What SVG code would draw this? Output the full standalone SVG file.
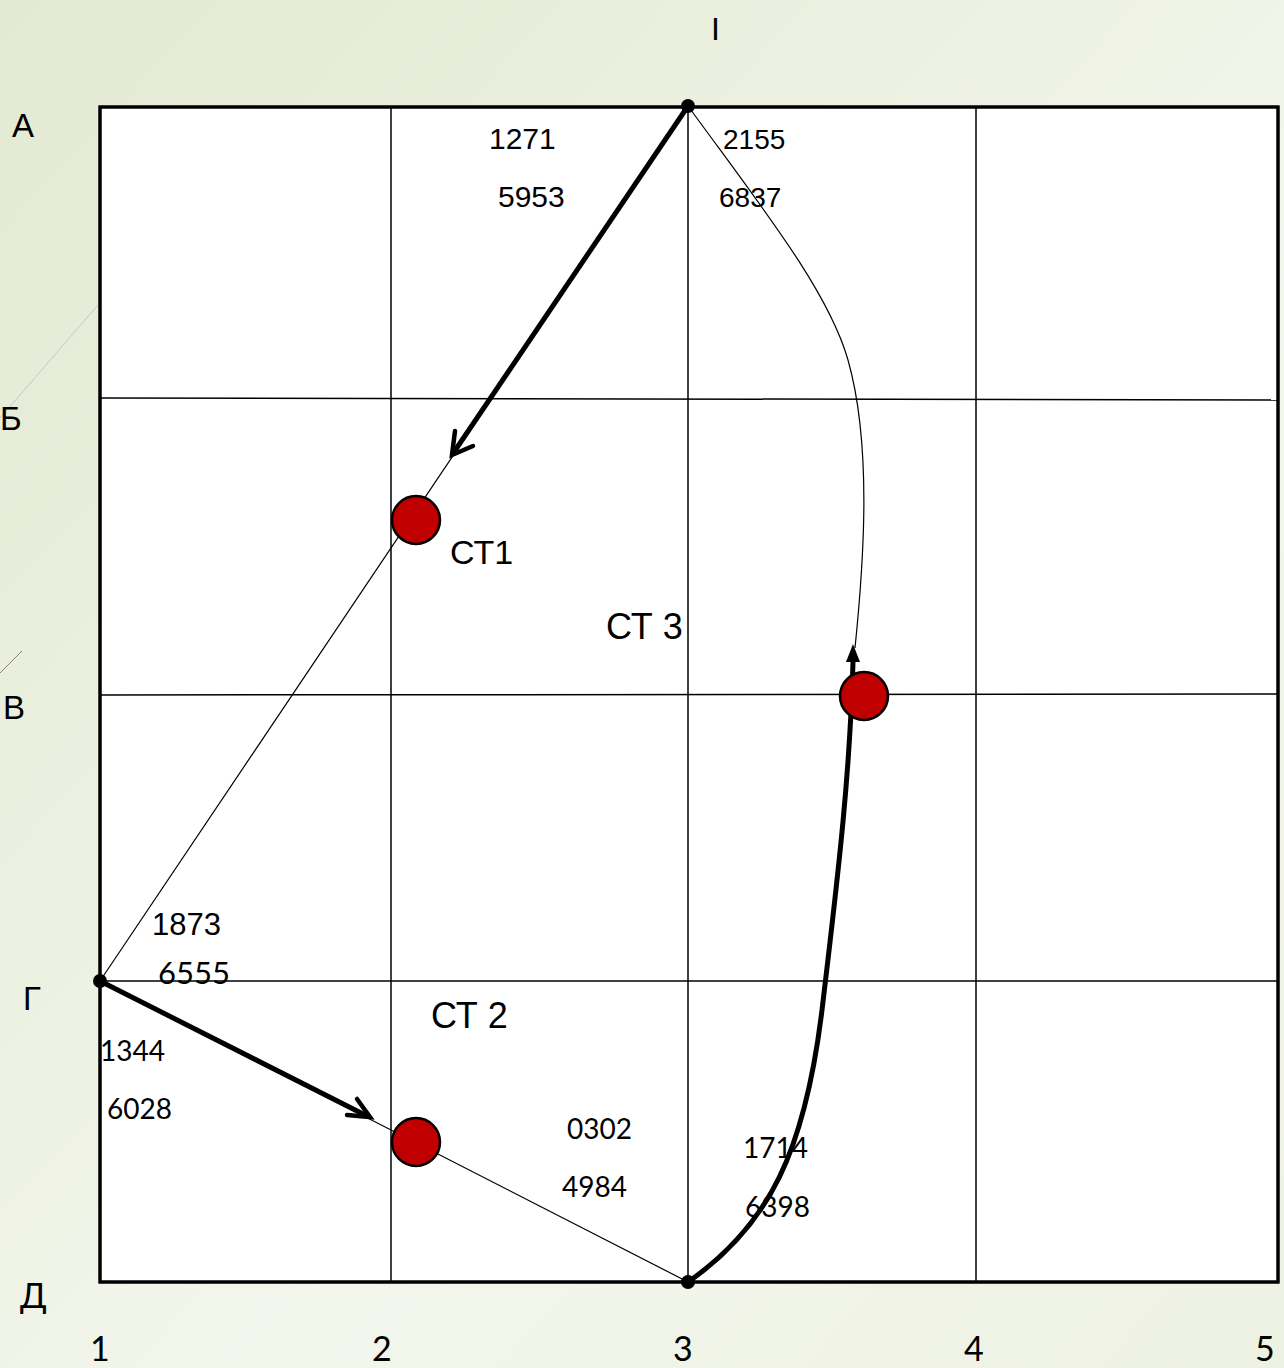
<svg xmlns="http://www.w3.org/2000/svg" width="1284" height="1368" viewBox="0 0 1284 1368">
<defs>
<linearGradient id="bg" x1="0" y1="0" x2="1" y2="1">
<stop offset="0" stop-color="#E3E9D2"/>
<stop offset="0.6" stop-color="#F3F6EC"/>
<stop offset="1" stop-color="#EEF2E2"/>
</linearGradient>
<style>
.grid{stroke:#000;stroke-width:1.5;fill:none}
.frame{stroke:#000;stroke-width:3;fill:#fff}
.thin{stroke:#000;stroke-width:1.2;fill:none}
.thick{stroke:#000;stroke-width:5;fill:none}
.head{stroke:#000;stroke-width:4.5;fill:none;stroke-linecap:round;stroke-linejoin:miter}
.st{fill:#C00000;stroke:#000;stroke-width:2.5}
.dot{fill:#000}
.a{font-family:"Liberation Sans",Arial,sans-serif;fill:#000}
.c{font-family:Lato,"Open Sans",sans-serif;fill:#000}
</style>
</defs>
<rect width="1284" height="1368" fill="url(#bg)"/>
<line x1="98" y1="305" x2="0" y2="418" stroke="#C8C9BE" stroke-width="1"/>
<line x1="22" y1="651" x2="0" y2="673" stroke="#8A8370" stroke-width="1"/>
<g id="grid">
<rect class="frame" x="100" y="107" width="1178" height="1175"/>
<line class="grid" x1="391" y1="107" x2="391" y2="1282"/>
<line class="grid" x1="688" y1="107" x2="688" y2="1282"/>
<line class="grid" x1="976" y1="107" x2="976" y2="1282"/>
<line class="grid" x1="100" y1="398" x2="1278" y2="400"/>
<line class="grid" x1="100" y1="695" x2="1278" y2="694"/>
<line class="grid" x1="100" y1="981" x2="1278" y2="981"/>
<rect x="100" y="107" width="1178" height="1175" fill="none" stroke="#000" stroke-width="3"/>
</g>
<g id="connectors">
<line class="thin" x1="688" y1="106" x2="100" y2="981"/>
<line class="thick" x1="686" y1="109" x2="454" y2="452"/>
<path class="head" d="M455,431 L452,455 L473,446"/>
<line class="thin" x1="100" y1="981" x2="688" y2="1282"/>
<line class="thick" x1="100" y1="981" x2="367" y2="1116"/>
<path class="head" d="M357,1099 L370,1117 L347,1115"/>
<path class="thin" d="M688,106 C760,205 828,290 848,360 C872,445 864,560 855,648"/>
<path class="thick" d="M688,1282 C770,1225 805,1150 822,1010 C840,860 850,770 853,662"/>
<path d="M846,662 L853,644 L860,662 Z" fill="#000"/>
</g>
<g id="node-I"><circle class="dot" cx="688" cy="106" r="7"/></g>
<g id="node-G"><circle class="dot" cx="100" cy="981" r="7"/></g>
<g id="node-D"><circle class="dot" cx="688" cy="1282" r="7"/></g>
<g id="node-ST1"><circle class="st" cx="416" cy="520" r="24"/><text class="a" x="450" y="564" font-size="34">СТ1</text></g>
<g id="node-ST3"><circle class="st" cx="864" cy="696" r="24"/><text class="a" x="606" y="639" font-size="36">СТ 3</text></g>
<g id="node-ST2"><circle class="st" cx="416" cy="1142" r="24"/><text class="a" x="431" y="1028" font-size="36">СТ 2</text></g>
<g id="labels">
<text class="a" x="711" y="40" font-size="32">I</text>
<text class="a" x="12" y="137" font-size="33">А</text>
<text class="a" x="0" y="430" font-size="33">Б</text>
<text class="a" x="3" y="719" font-size="33">В</text>
<text class="a" x="23" y="1010" font-size="33">Г</text>
<text class="c" x="20" y="1308" font-size="34">Д</text>
<text class="c" x="90" y="1361" font-size="34">1</text>
<text class="c" x="372" y="1361" font-size="34">2</text>
<text class="c" x="673" y="1361" font-size="34">3</text>
<text class="c" x="964" y="1361" font-size="34">4</text>
<text class="c" x="1255" y="1361" font-size="34">5</text>
<text class="a" x="489" y="149" font-size="30">1271</text>
<text class="a" x="498" y="207" font-size="30">5953</text>
<text class="a" x="723" y="149" font-size="28">2155</text>
<text class="a" x="719" y="207" font-size="28">6837</text>
<text class="a" x="152" y="935" font-size="31">1873</text>
<text class="c" x="158" y="984" font-size="31">6555</text>
<text class="c" x="100" y="1061" font-size="28">1344</text>
<text class="c" x="107" y="1119" font-size="28">6028</text>
<text class="c" x="567" y="1139" font-size="28">0302</text>
<text class="c" x="562" y="1197" font-size="28">4984</text>
<text class="c" x="743" y="1158" font-size="28">1714</text>
<text class="c" x="745" y="1217" font-size="28">6398</text>
</g>
</svg>
